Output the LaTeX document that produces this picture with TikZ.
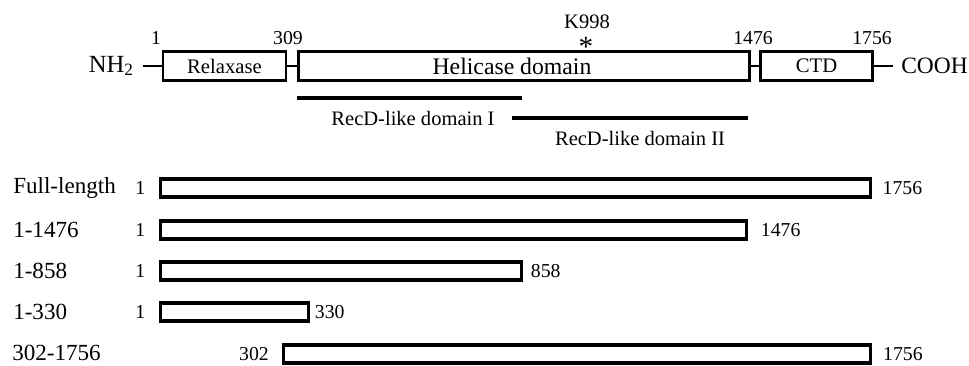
\documentclass[tikz,border=0pt]{standalone}
\usepackage{fontspec}
\setmainfont{Liberation Serif}
\usetikzlibrary{positioning}
\newcommand\pxu{0.75pt}

\begin{document}
\begin{tikzpicture}[
        x=0.75pt,
        y=-0.75pt,
        dom/.style={rectangle, draw, line width=2.2pt, minimum height=29*\pxu, inner sep=0pt, font=\fontsize{15.5}{17}\selectfont},
        cons/.style={rectangle, draw, line width=2.4pt, minimum height=18*\pxu, inner sep=0pt, anchor=west},
        num/.style={font=\fontsize{14.8}{16}\selectfont, inner sep=1pt},
        tag/.style={font=\fontsize{17.3}{19}\selectfont, anchor=west, inner sep=0pt},
        link/.style={line width=2.2pt},
        recd/.style={line width=3.6pt},
        ]
        \useasboundingbox (0,0) rectangle (969,365);

        % domain map
        \node(relax)[dom, minimum width=123*\pxu] at (224.5,66) {Relaxase};
        \node(heli)[dom, minimum width=451*\pxu] at (524,66) {};
        \node(helitxt)[font=\fontsize{17.8}{19}\selectfont, inner sep=0pt] at ([xshift=-9pt]heli.center) {Helicase domain};
        \node(ctd)[dom, minimum width=112*\pxu] at (816.5,66) {CTD};
        \node(nh)[font=\fontsize{18.5}{21}\selectfont, anchor=east, inner sep=0pt] at (134,66) {NH\textsubscript{2}};
        \node(cooh)[font=\fontsize{17.6}{20}\selectfont, anchor=west, inner sep=0pt] at (901,66) {COOH};
        \coordinate(nend) at (143,66);
        \coordinate(cend) at (893,66);
        \draw[link](nend)--(relax.west);
        \draw[link](relax.east)--(heli.west);
        \draw[link](heli.east)--(ctd.west);
        \draw[link](ctd.east)--(cend);

        \node(p1)[num] at (156,38) {1};
        \node(p309)[num] at (288,38) {309};
        \node(p1476)[num] at (753,38) {1476};
        \node(p1756)[num] at (872,38) {1756};
        \node(k998)[num, font=\fontsize{15.4}{17}\selectfont] at (587,22) {K998};
        \node(ast)[num, font=\fontsize{22}{24}\selectfont] at (586,47) {*};

        % RecD-like domains
        \coordinate(r1a) at (297,98);
        \coordinate(r1b) at (522,98);
        \coordinate(r2a) at (512,118);
        \coordinate(r2b) at (748,118);
        \draw[recd](r1a)--(r1b);
        \draw[recd](r2a)--(r2b);
        \node(recd1)[num, font=\fontsize{15.4}{17}\selectfont] at (413,118) {RecD-like domain I};
        \node(recd2)[num, font=\fontsize{15.4}{17}\selectfont] at (640,138) {RecD-like domain II};

        % constructs
        \node(full)[cons, minimum width=710*\pxu] at (158.5,188) {};
        \node(c1476)[cons, minimum width=586*\pxu] at (158.5,230) {};
        \node(c858)[cons, minimum width=361*\pxu] at (158.5,271) {};
        \node(c330)[cons, minimum width=148*\pxu] at (158.5,312) {};
        \node(c302)[cons, minimum width=587*\pxu] at (282,354) {};

        \node(tfull)[tag] at (13,188) {Full-length};
        \node(t1476)[tag] at (13,230) {1-1476};
        \node(t858)[tag] at (13,271) {1-858};
        \node(t330)[tag] at (13,312) {1-330};
        \node(t302)[tag] at (12,353) {302-1756};

        \node[num, left=8.75pt of full] {1};
        \node[num, left=8.75pt of c1476] {1};
        \node[num, left=8.75pt of c858] {1};
        \node[num, left=8.75pt of c330] {1};
        \node[num, left=8.75pt of c302] {302};
        \node[num, right=7pt of full] {1756};
        \node[num, right=8.75pt of c1476] {1476};
        \node[num, right=5pt of c858] {858};
        \node[num, right=2.75pt of c330] {330};
        \node[num, right=7pt of c302] {1756};
      \end{tikzpicture}
\end{document}
